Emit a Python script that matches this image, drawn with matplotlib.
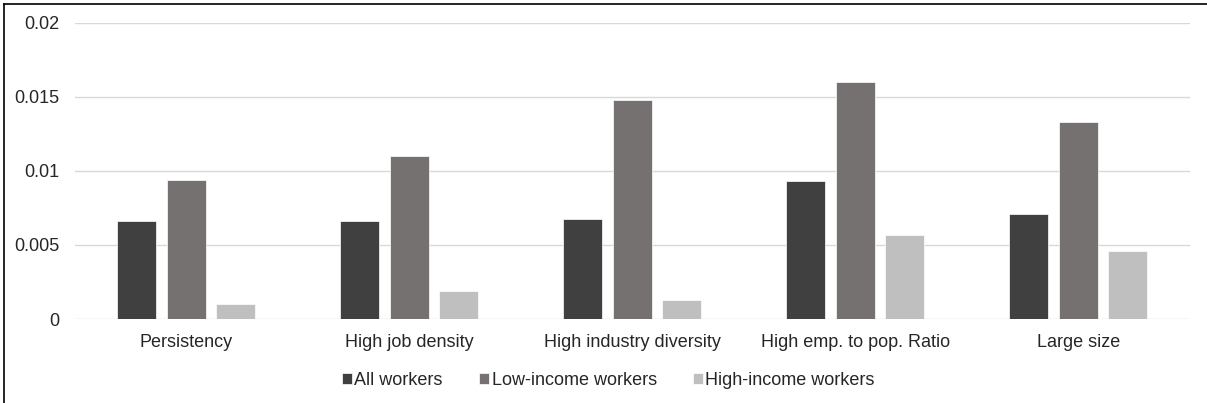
import matplotlib
matplotlib.use('Agg')

import matplotlib.pyplot as plt
import numpy as np

categories = ['Persistency', 'High job density', 'High industry diversity',
              'High emp. to pop. Ratio', 'Large size']
series_names = ['All workers', 'Low-income workers', 'High-income workers']
all_workers = [0.0066, 0.0066, 0.00675, 0.0093, 0.0071]
low_income = [0.0094, 0.0110, 0.0148, 0.0160, 0.0133]
high_income = [0.0010, 0.0019, 0.0013, 0.0057, 0.0046]
colors = ['#404040', '#767171', '#bfbfbf']

plt.rcParams['font.family'] = ['Liberation Sans', 'DejaVu Sans']

fig = plt.figure(figsize=(12.07, 4.03), dpi=100)
ax = fig.add_axes([0.0621, 0.2084, 0.9238, 0.7353])

x = np.arange(len(categories))
width = 0.175
step = 0.222
for i, (vals, name) in enumerate(zip([all_workers, low_income, high_income], series_names)):
    ax.bar(x + (i - 1) * step, vals, width, color=colors[i], label=name,
           edgecolor='white', linewidth=0.5, zorder=3)

ax.set_xlim(-0.5, len(categories) - 0.5)
ax.set_ylim(0, 0.02)
ax.set_yticks([0, 0.005, 0.01, 0.015, 0.02])
ax.set_yticklabels(['0', '0.005', '0.01', '0.015', '0.02'])
ax.set_xticks(x)
ax.set_xticklabels(categories)
ax.tick_params(axis='both', length=0, labelsize=13, colors='#262626')
ax.tick_params(axis='y', pad=11)
ax.tick_params(axis='x', pad=11)
ax.grid(axis='y', color='#d9d9d9', linewidth=1, zorder=0)
for s in ax.spines.values():
    s.set_visible(False)

fig.legend(loc='center', bbox_to_anchor=(0.504, 0.057), ncol=3, frameon=False,
           fontsize=13, handlelength=0.55, handleheight=0.55, handletextpad=0.15,
           columnspacing=2.0, labelcolor='#262626')

# outer frame (left and top edges visible)
fig.add_artist(plt.Line2D([0.0033, 0.0033], [0, 0.99], color='black', lw=1.2,
                          transform=fig.transFigure))
fig.add_artist(plt.Line2D([0.0033, 1], [0.99, 0.99], color='black', lw=1.2,
                          transform=fig.transFigure))

fig.savefig('out.png', dpi=100)
plt.close()
